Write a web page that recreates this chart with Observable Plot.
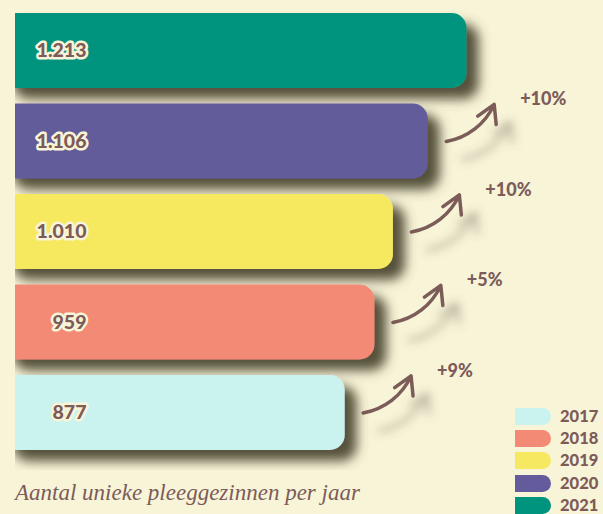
<!DOCTYPE html>
<html><head><meta charset="utf-8">
<script src="https://cdn.jsdelivr.net/npm/d3@7"></script>
<script src="https://cdn.jsdelivr.net/npm/@observablehq/plot@0.6"></script>
<style>
html,body{margin:0;padding:0;background:#f8f4d8;overflow:hidden;}
#wrap{position:relative;width:603px;height:514px;}
#chart svg{display:block;}
#caption{position:absolute;left:15px;top:482px;font-family:"Liberation Serif",serif;font-style:italic;font-size:23px;line-height:22px;color:#7c5b59;white-space:nowrap;}
#legend{position:absolute;left:515px;top:405px;}
.li{display:flex;align-items:center;height:22.3px;}
.sw{width:36px;height:17px;border-radius:0 8.5px 8.5px 0;margin-right:9px;}
.lt{font-family:Lato,sans-serif;font-weight:900;font-size:16.5px;color:#7c5b59;line-height:17px;}
</style></head><body>
<div id="wrap"><div id="chart"></div><div id="caption"></div><div id="legend"></div></div>
<script>
const years = ["2017", "2018", "2019", "2020", "2021"];
const values = [877, 959, 1010, 1106, 1213];
const colors = ["#caf2ee", "#f38a76", "#f6e961", "#635b9b", "#00947f"];
const growthLabels = ["+9%", "+5%", "+10%", "+10%"];
const captionText = "Aantal unieke pleeggezinnen per jaar";

const brown = "#7c5b59";
const cream = "#f8f4d8";
const bars = years.map((year, i) => ({year, i, value: values[i], color: colors[i]}));
const arrows = growthLabels.map((label, i) => ({label, i, value: values[i]}));
const nl = d3.formatLocale({decimal: ",", thousands: ".", grouping: [3], currency: ["€", ""]});
const fmt = nl.format(",d");

const plot = Plot.plot({
  width: 603, height: 470,
  marginLeft: 15, marginRight: 0, marginTop: 0, marginBottom: 0,
  style: {background: "transparent", fontFamily: "Lato, sans-serif", overflow: "visible"},
  x: {domain: [0, 1213], range: [26.3, 466.6], axis: null},
  y: {domain: [4, 0], range: [50.5, 412.5], axis: null},
  marks: [
    Plot.arrow(arrows, {
      x1: "value", y1: "i",
      x2: d => d.value + 132, y2: d => d.i + 0.41,
      dx: 18, bend: -28, stroke: brown, strokeWidth: 3.5, headLength: 12
    }),
    Plot.rect(bars, {
      x1: d => 0, x2: "value",
      y1: d => d.i - 0.414, y2: d => d.i + 0.414,
      fill: d => d.color, rx: 15, insetLeft: -25, clip: true
    }),
    Plot.text(bars, {
      y: "i", frameAnchor: "left", dx: 71, textAnchor: "end",
      text: d => fmt(d.value), fill: brown, stroke: cream, strokeWidth: 5,
      paintOrder: "stroke", fontSize: 19.5, fontWeight: 900
    }),
    Plot.text(arrows, {
      x: d => d.value + 132, y: d => d.i + 0.41, dx: 44, dy: -5,
      text: "label", textAnchor: "start", fill: brown, fontSize: 18, fontWeight: 900
    })
  ]
});
document.getElementById("chart").appendChild(plot);

const svg = d3.select(plot);
const defs = svg.insert("defs", ":first-child");
const f1 = defs.append("filter").attr("id", "barShadow")
  .attr("x", "-10%").attr("y", "-20%").attr("width", "130%").attr("height", "150%");
f1.append("feDropShadow").attr("dx", 12).attr("dy", 11).attr("stdDeviation", 6)
  .attr("flood-color", "#46432f").attr("flood-opacity", 0.92);
const f2 = defs.append("filter").attr("id", "arrowShadow")
  .attr("x", "-50%").attr("y", "-50%").attr("width", "200%").attr("height", "200%");
f2.append("feGaussianBlur").attr("in", "SourceAlpha").attr("stdDeviation", 5).attr("result", "b");
f2.append("feOffset").attr("in", "b").attr("dx", 16).attr("dy", 18).attr("result", "o");
f2.append("feFlood").attr("flood-color", "#5a5646").attr("flood-opacity", 0.45).attr("result", "c");
f2.append("feComposite").attr("in", "c").attr("in2", "o").attr("operator", "in").attr("result", "s");
const m = f2.append("feMerge");
m.append("feMergeNode").attr("in", "s");
m.append("feMergeNode").attr("in", "SourceGraphic");
svg.selectAll('g[aria-label="rect"]').attr("filter", "url(#barShadow)");
svg.selectAll('g[aria-label="arrow"]').attr("filter", "url(#arrowShadow)").attr("stroke-linecap", "round");

document.getElementById("caption").textContent = captionText;
const legend = d3.select("#legend");
years.forEach((y, i) => {
  const row = legend.append("div").attr("class", "li");
  row.append("div").attr("class", "sw").style("background", colors[i]);
  row.append("div").attr("class", "lt").text(y);
});
</script>
</body></html>
